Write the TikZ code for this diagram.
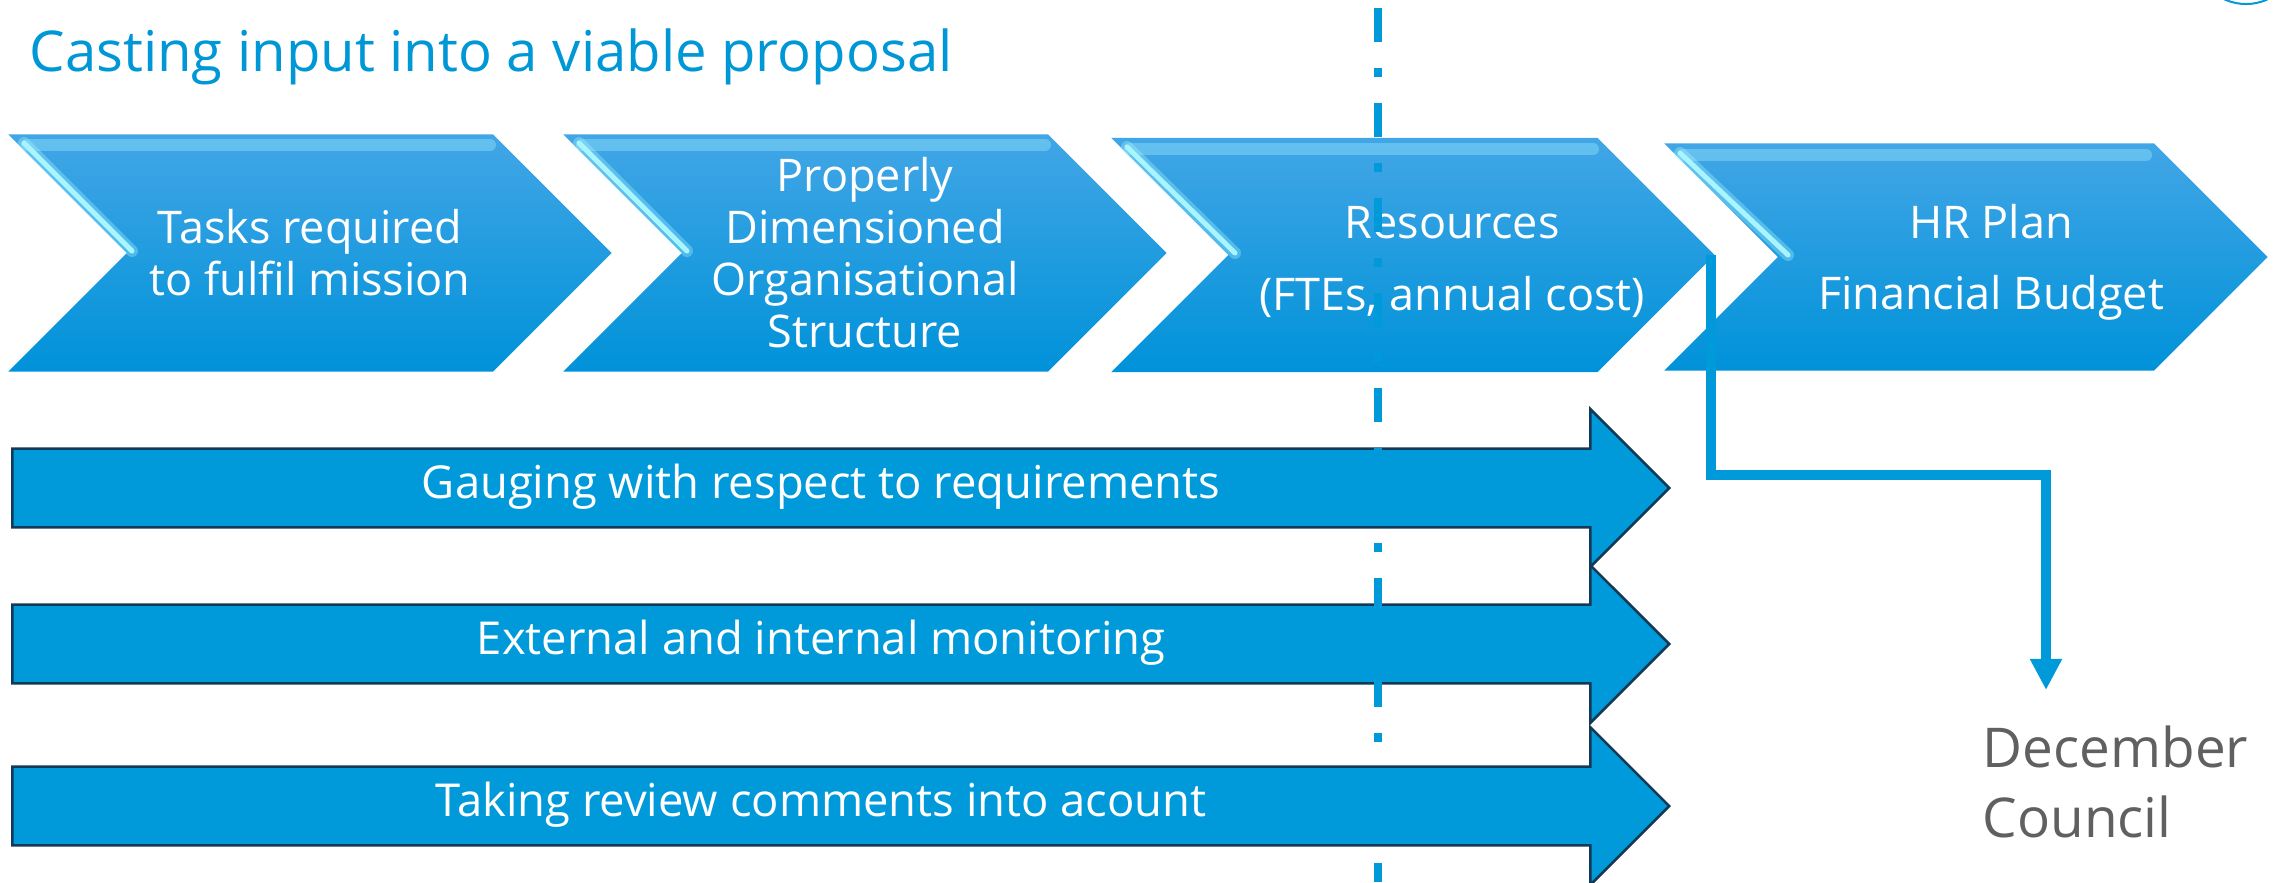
\documentclass[tikz,border=0pt]{standalone}
\usepackage{fontspec}
\setmainfont{Open Sans}
\usetikzlibrary{shapes.symbols,shapes.arrows,arrows.meta}

\definecolor{titleblue}{HTML}{0097D7}
\definecolor{chevtop}{HTML}{42A6E6}
\definecolor{chevbot}{HTML}{0092D9}
\definecolor{chevshine}{HTML}{A8F4FF}
\definecolor{barblue}{HTML}{009ADB}
\definecolor{barline}{HTML}{123A57}
\definecolor{linkblue}{HTML}{0099DA}
\definecolor{notegray}{HTML}{606060}

\tikzset{
  chevron/.style={signal, signal from=west, signal to=east, signal pointer angle=90,
    minimum width=6.03cm, minimum height=2.37cm, inner sep=0pt,
    top color=chevtop, bottom color=chevbot, text=white, align=center,
    font=\fontsize{12.8}{14.8}\selectfont},
  shine/.style={chevshine, line width=0.05cm, line cap=round},
  glow/.style={chevshine, line width=0.12cm, line cap=round, opacity=0.35},
  bararrow/.style={single arrow, single arrow head extend=0.395cm,
    fill=barblue, draw=barline, line width=0.025cm, text=white,
    minimum height=16.56cm, text height=0.3cm, text depth=0.1cm,
    inner ysep=0.18cm, inner xsep=0pt, anchor=tail,
    font=\fontsize{12.9}{15}\selectfont},
  link/.style={linkblue, line width=0.1cm, -{Triangle[width=0.3cm,length=0.31cm]}},
  milestone/.style={linkblue, line width=0.08cm,
    dash pattern=on 0.34cm off 0.26cm on 0.09cm off 0.26cm}
}

\begin{document}
\begin{tikzpicture}[x=0.01cm, y=-0.01cm]
\useasboundingbox (0,0) rectangle (2280,882);

% Title
\node (title) [anchor=base west, inner sep=0pt, text=titleblue,
  font=\fontsize{16}{19}\selectfont] at (29,72) {Casting input into a viable proposal};

% Small circle cut by the top edge
\begin{scope}
  \clip (0,0) rectangle (2280,882);
  \draw [linkblue, line width=0.02cm] (2246,-48) circle (0.52cm);
\end{scope}

% Chevron 1
\node (tasks) [chevron] at (310,253) {Tasks required\\to fulfil mission};
\draw [glow] ([shift={(-286,-110)}]tasks.center) -- ([shift={(-178,-2)}]tasks.center);
\draw [shine] ([shift={(-286,-110)}]tasks.center) -- ([shift={(-178,-2)}]tasks.center);
\draw [glow] ([shift={(-283,-108)}]tasks.center) -- ([shift={(180,-108)}]tasks.center);

% Chevron 2
\node (orgs) [chevron] at (865,253) {Properly\\Dimensioned\\Organisational\\Structure};
\draw [glow] ([shift={(-286,-110)}]orgs.center) -- ([shift={(-178,-2)}]orgs.center);
\draw [shine] ([shift={(-286,-110)}]orgs.center) -- ([shift={(-178,-2)}]orgs.center);
\draw [glow] ([shift={(-283,-108)}]orgs.center) -- ([shift={(180,-108)}]orgs.center);

% Chevron 3
\node (res) [chevron, minimum height=2.34cm] at (1413,255) {};
\node (restext) [text=white, align=center, font=\fontsize{12.8}{14.8}\selectfont]
  at (1452,262) {Resources\\[5.4pt](FTEs, annual cost)};
\draw [glow] ([shift={(-286,-108)}]res.center) -- ([shift={(-178,-2)}]res.center);
\draw [shine] ([shift={(-286,-108)}]res.center) -- ([shift={(-178,-2)}]res.center);
\draw [glow] ([shift={(-283,-106)}]res.center) -- ([shift={(180,-106)}]res.center);

% Chevron 4
\node (hr) [chevron, minimum height=2.27cm] at (1966,257) {};
\node (hrtext) [text=white, align=center, font=\fontsize{12.8}{14.8}\selectfont]
  at (1991,262) {HR Plan\\[5.4pt]Financial Budget};
\draw [glow] ([shift={(-286,-104)}]hr.center) -- ([shift={(-178,-2)}]hr.center);
\draw [shine] ([shift={(-286,-104)}]hr.center) -- ([shift={(-178,-2)}]hr.center);
\draw [glow] ([shift={(-283,-102)}]hr.center) -- ([shift={(180,-102)}]hr.center);

% Continuous activities
\node (gauge) [bararrow] at (11,488) {Gauging with respect to requirements};
\node (watch) [bararrow] at (11,644) {External and internal monitoring};
\node (review) [bararrow] at (11,806) {Taking review comments into acount};

% Deadline line
\draw [milestone] (1378,8) -- (1378,882);

% Hand-over to the council
\node (council) [anchor=base west, inner sep=0pt, align=left, text=notegray,
  font=\fontsize{15.6}{19.9}\selectfont] at (1982,837) {December\\Council};
\coordinate (dec) at (2046,690);
\draw [link] ([xshift=-0.05cm]res.east) |- (dec |- 0,475) -- (dec);

\end{tikzpicture}
\end{document}
